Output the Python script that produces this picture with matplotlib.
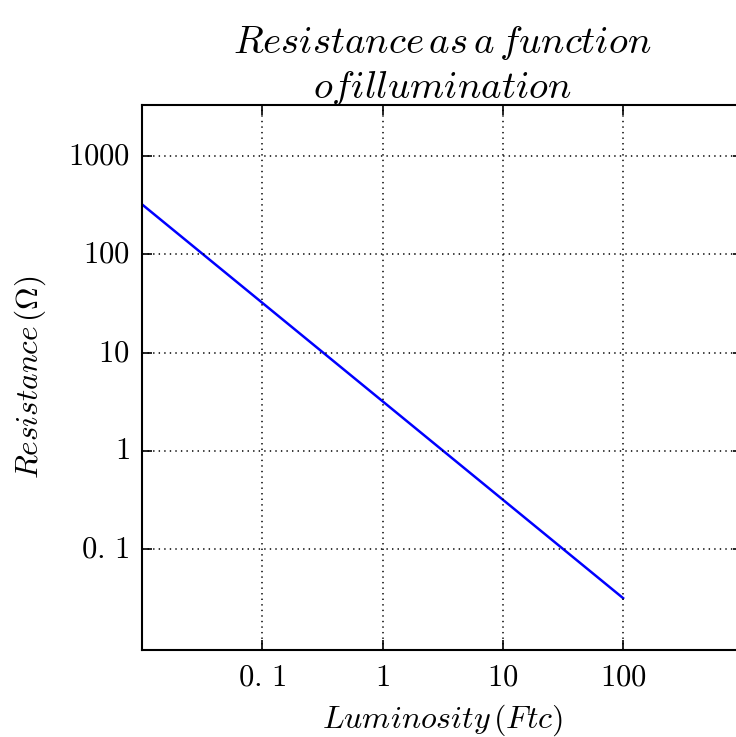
import numpy as np
import matplotlib
matplotlib.use('Agg')
import matplotlib.pyplot as plt

plt.style.use('classic')
plt.rcParams['mathtext.fontset'] = 'cm'
plt.rcParams['axes.linewidth'] = 1.5

# luminosity (Ftc) and resistance (Ohm)
lum = [0.01, 0.1, 1, 10, 100]
res = [320, 32, 3.2, 0.32, 0.032]

xticks = [0.1, 1, 10, 100]
xlabels = [r'$0.\,1$', r'$1$', r'$10$', r'$100$']
yticks = [0.1, 1, 10, 100, 1000]
ylabels = [r'$0.\,1$', r'$1$', r'$10$', r'$100$', r'$1000$']

fig = plt.figure(figsize=(7.36, 7.37), dpi=100)
ax = fig.add_axes([0.193, 0.118, 0.817, 0.74])
ax.loglog(lum, res, 'b-', lw=1.8)
ax.set_xlim(0.01, 1000)
ax.set_ylim(0.0095, 3300)
ax.minorticks_off()
ax.set_xticks(xticks)
ax.set_xticklabels(xlabels, fontsize=22)
ax.set_yticks(yticks)
ax.set_yticklabels(ylabels, fontsize=22)
ax.tick_params(which='major', length=7, width=1.2, pad=9)
ax.grid(True, lw=1.1)

ax.set_xlabel(r'$Luminosity\,(Ftc)$', fontsize=23, labelpad=8)
ax.set_ylabel(r'$Resistance\,(\Omega)$', fontsize=22.5, labelpad=14)
ax.set_title('$Resistance\\,as\\,a\\,function$\n$of illumination$', fontsize=28, y=1.0)

fig.savefig('out.png', dpi=100)
